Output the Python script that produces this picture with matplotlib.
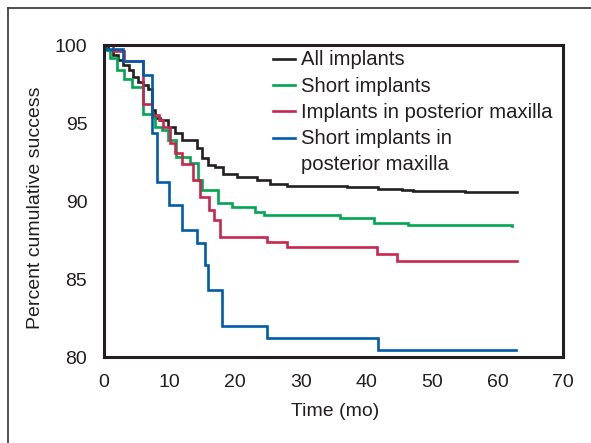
import matplotlib
matplotlib.use("Agg")
import matplotlib.pyplot as plt
from matplotlib.lines import Line2D

plt.rcParams['font.family'] = ['Liberation Sans', 'DejaVu Sans']

labels = ["All implants", "Short implants", "Implants in posterior maxilla",
          "Short implants in\nposterior maxilla"]
colors = ["#231f20", "#00a651", "#c8254f", "#005baa"]

all_t = [0, 0.6, 1.42, 2.18, 2.94, 3.86, 4.47, 5.14, 5.99, 6.76, 7.27, 7.78, 8.54, 9.8,
         10.83, 11.85, 14.14, 14.9, 15.9, 16.9, 18.2, 20.2, 23.3, 25.3, 27.9, 37.1,
         41.8, 45.4, 47.1, 55.0, 63.0]
all_v = [100, 99.68, 99.36, 99.04, 98.76, 98.4, 97.97, 97.65, 97.44, 97.22, 95.83, 95.3,
         95.19, 94.76, 94.34, 93.91, 93.38, 92.74, 92.31, 92.16, 91.73, 91.56, 91.35,
         91.13, 91.0, 90.93, 90.8, 90.74, 90.66, 90.6, 90.56]

short_t = [0, 0.3, 0.92, 1.93, 3.08, 4.2, 5.99, 7.27, 7.78, 8.8, 9.8, 11.0, 13.1, 14.4,
           14.9, 17.4, 19.5, 23.0, 24.4, 36.0, 41.1, 46.3, 61.5, 62.2]
short_v = [100, 99.7, 99.15, 98.4, 97.8, 97.29, 95.58, 95.37, 94.76, 94.55, 93.91, 92.84,
           92.46, 91.35, 90.71, 89.9, 89.63, 89.28, 89.1, 88.89, 88.6, 88.5, 88.45, 88.4]

post_t = [0, 1.37, 3.05, 5.95, 7.32, 8.39, 9.0, 10.07, 10.83, 11.9, 13.6, 14.64, 15.94,
          16.7, 17.7, 24.8, 27.9, 41.6, 44.7, 63.0]
post_v = [100, 99.6, 99.0, 96.2, 95.5, 95.2, 94.76, 93.7, 93.06, 92.4, 91.35, 90.28,
          89.42, 88.78, 87.71, 87.4, 87.03, 86.6, 86.15, 86.15]

spm_t = [0, 0.3, 2.9, 5.95, 7.3, 8.1, 9.9, 11.9, 14.2, 15.4, 15.9, 18.0, 24.9, 41.8, 62.8]
spm_v = [100, 99.75, 99.0, 98.08, 94.36, 91.2, 89.74, 88.14, 87.3, 85.9, 84.3, 81.99,
         81.22, 80.45, 80.45]

series = [(all_t, all_v), (short_t, short_v), (post_t, post_v), (spm_t, spm_v)]

x_ticks = [0, 10, 20, 30, 40, 50, 60, 70]
y_ticks = [80, 85, 90, 95, 100]

fig = plt.figure(figsize=(5.91, 4.43), dpi=100)
ax = fig.add_axes([0.176, 0.194, 0.777, 0.704])

for (t, v), c in zip(series, colors):
    ax.plot(t, v, drawstyle='steps-post', color=c, lw=1.9, solid_joinstyle='miter')

ax.set_xlim(0, 70)
ax.set_ylim(80, 100)
ax.set_xticks(x_ticks)
ax.set_yticks(y_ticks)
ax.tick_params(length=0, pad=12, labelsize=14, colors='#231f20')
for s in ax.spines.values():
    s.set_linewidth(2.2)
    s.set_color('#231f20')

ax.set_xlabel("Time (mo)", fontsize=14, color='#231f20')
ax.set_ylabel("Percent cumulative success", fontsize=14, color='#231f20')
ax.xaxis.set_label_coords(0.503, -0.147)
ax.yaxis.set_label_coords(-0.131, 0.48)

# manual legend
hx0, hx1, tx = (273 - 104) / 459, (295 - 104) / 459, (301 - 104) / 459
rows_y = [58.5, 85, 111, 137.5]
second_line_y = 163.5
for lab, c, py in zip(labels, colors, rows_y):
    yf = (357 - py) / 312
    ax.add_line(Line2D([hx0, hx1], [yf, yf], transform=ax.transAxes, color=c, lw=1.9))
    lines = lab.split('\n')
    ax.text(tx, yf - 0.004, lines[0], transform=ax.transAxes, fontsize=14.6,
            va='center', ha='left', color='#231f20')
    if len(lines) > 1:
        ax.text(tx, (357 - second_line_y) / 312 - 0.004, lines[1], transform=ax.transAxes,
                fontsize=14.6, va='center', ha='left', color='#231f20')

# outer frame (left and top)
fig.add_artist(Line2D([7.5 / 591, 7.5 / 591], [0, 1 - 7.5 / 443], transform=fig.transFigure, color='#333333', lw=1.2))
fig.add_artist(Line2D([7.5 / 591, 1], [1 - 7.5 / 443, 1 - 7.5 / 443], transform=fig.transFigure, color='#333333', lw=1.2))

fig.savefig("out.png", dpi=100)
